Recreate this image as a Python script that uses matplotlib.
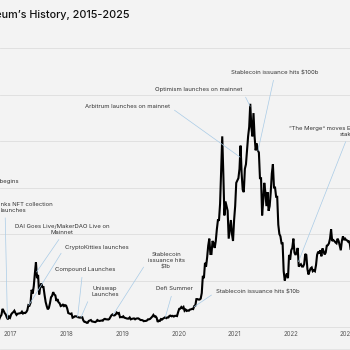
import numpy as np
import pandas as pd
import matplotlib.pyplot as plt

# weekly ETH price (USD), one list per year, each starting on a Monday
eth_2017 = [80, 88, 95, 170, 225, 260, 390, 350, 300, 270, 205, 165, 225, 200,
            270, 300, 320, 350, 300, 260, 285, 290, 295, 300, 330, 290, 305,
            300, 320, 360, 470, 460, 520, 800, 720]
eth_2018 = [880, 1150, 1390, 1050, 1120, 700, 860, 940, 860, 860, 690, 540, 450,
            380, 410, 510, 640, 670, 750, 700, 680, 560, 600, 530, 510, 450,
            460, 480, 450, 470, 460, 400, 300, 290, 280, 290, 200, 210, 230,
            230, 225, 210, 205, 200, 210, 210, 140, 110, 110, 90, 90, 130, 140]
eth_2019 = [150, 120, 115, 110, 105, 120, 150, 135, 130, 135, 140, 135,
            165, 175, 165, 165, 160, 170, 210, 250, 270, 250, 250, 270, 310,
            290, 300, 210, 215, 210, 230, 200, 195, 185, 180, 180, 205, 165, 175,
            180, 185, 165, 180, 185, 185, 170, 150, 150, 145, 125, 130, 130]
eth_2020 = [140, 165, 165, 175, 200, 225, 260, 225, 230, 200, 110, 135, 130,
            170, 160, 180, 195, 210, 190, 205, 205, 240, 245, 230, 240, 225,
            240, 240, 235, 320, 390, 395, 430, 405, 430, 350, 375, 345, 355,
            350, 375, 380, 390, 385, 450, 460, 600, 600, 590, 590, 610, 730]
eth_2021 = [1100, 1050, 1380, 1300, 1500, 1750, 1900, 1570, 1570, 1850, 1800, 1700, 1850,
            2100, 2300, 2300, 2650, 3400, 4100, 3300, 2400, 2700, 2600, 2500, 1900, 2100,
            2300, 2000, 1850, 2300, 2600, 3100, 3150, 3200, 3400, 3900, 3300, 2950, 2900,
            3400, 3500, 3800, 4100, 4300, 4800, 4300, 4100, 4600, 4100, 3800, 3950, 3800]
eth_2022 = [3750, 3200, 3200, 2400, 2700, 3100, 2900, 2600, 2900, 2500, 2600, 2900, 3300,
            3500, 3000, 3000, 2800, 2800, 2200, 2000, 1950, 1800, 1800, 1200, 1000, 1100,
            1150, 1050, 1550, 1450, 1650, 1700, 1900, 1600, 1550, 1600, 1700, 1300, 1330,
            1350, 1300, 1300, 1350, 1570, 1550, 1250, 1130, 1200, 1260, 1280, 1200, 1220]
eth_2023 = [1200, 1330, 1550, 1620, 1580, 1650, 1520, 1690, 1630, 1560, 1600, 1750, 1760,
            1800, 1900, 2100, 1850, 1870, 1850, 1820, 1800, 1900, 1850, 1750, 1650, 1850,
            1950, 1870, 1900, 1870, 1860, 1830, 1850, 1680]
year_starts = ['2017-05-01', '2018-01-01', '2019-01-07', '2020-01-06',
               '2021-01-04', '2022-01-03', '2023-01-02']

events = ['ICO boom begins',
          'CryptoPunks NFT collection\nlaunches',
          'DAI Goes Live/MakerDAO Live on\nMainnet',
          'CryptoKitties launches',
          'Compound Launches',
          'Uniswap\nLaunches',
          'Stablecoin\nissuance hits\n$1b',
          'Defi Summer',
          'Stablecoin issuance hits $10b',
          'Arbitrum launches on mainnet',
          'Optimism launches on mainnet',
          'Stablecoin issuance hits $100b',
          '\u201cThe Merge\u201d moves Ethereum to proof of\nstake']
event_t = [None, 2017.53, 2018.05, 2017.91, 2018.78, 2018.84, 2019.41, 2020.34,
           2020.85, 2021.67, 2021.85, 2021.99, 2022.71]
year_ticks = ['2017', '2018', '2019', '2020', '2021', '2022', '2023']


def dec_year(d):
    d = pd.DatetimeIndex(d)
    days = np.where(d.is_leap_year, 366, 365)
    return d.year + (d.dayofyear - 1) / days


t, p = [], []
for start, vals in zip(year_starts, [eth_2017, eth_2018, eth_2019, eth_2020,
                                     eth_2021, eth_2022, eth_2023]):
    t.extend(dec_year(pd.date_range(start, periods=len(vals), freq='7D')))
    p.extend(vals)
t = np.array(t)
p = np.array(p)

bg = '#f3f3f3'
leader = '#a9cbe6'
txt = '#333333'
plt.rcParams['font.family'] = ['Inter', 'DejaVu Sans']

fig = plt.figure(figsize=(3.5, 3.5), dpi=100, facecolor=bg)
ax = fig.add_axes([0, 23 / 350, 1, 279 / 350], facecolor=bg)

x0 = 2017.399
ppy = 56.2
ax.set_xlim(x0, x0 + 350 / ppy)
ax.set_ylim(0, 6000)

ax.plot(t, p, color='black', lw=1.5, zorder=3, solid_joinstyle='miter')

ax.set_yticks(np.arange(1000, 6001, 1000))
ax.yaxis.grid(True, color='#dddddd', lw=0.6)
ax.tick_params(axis='y', left=False, labelleft=False)
ax.set_xticks([int(y) + 0.577 for y in year_ticks])
ax.set_xticklabels(year_ticks)
ax.tick_params(axis='x', length=0, pad=3, labelsize=4.4, labelcolor='#555555')
for s in ['top', 'left', 'right']:
    ax.spines[s].set_visible(False)
ax.spines['bottom'].set_color('#dddddd')
ax.spines['bottom'].set_linewidth(0.6)


def px(x, y):
    return x0 + x / ppy, (327 - y) * 1000 / 46.5


# text position (pixels), alignment, leader start on text box
layout = [((19, 182), 'right', None),
          ((13, 207.5), 'center', (0.4, 0)),
          ((62, 229.5), 'center', (0.5, 0)),
          ((65, 247), 'left', (0, 0.5)),
          ((85.5, 270), 'center', (0.45, 0)),
          ((105, 291.5), 'center', (0, 0.3)),
          ((166, 261), 'center', (0, 0.5)),
          ((174.5, 289), 'center', (0.45, 0)),
          ((216, 292), 'left', (0, 0.5)),
          ((170, 107), 'right', (1, 0.5)),
          ((242, 90), 'right', (1, 0.5)),
          ((274.5, 73), 'center', (0.5, 0)),
          ((347.5, 131.5), 'center', (0.5, 0))]

for label, et, (pos, ha, rel) in zip(events, event_t, layout):
    tx, ty = px(*pos)
    if et is None:
        ax.text(tx, ty, label, ha=ha, va='center', fontsize=4.3, color=txt)
        continue
    ax.annotate(label, xy=(et, np.interp(et, t, p)), xytext=(tx, ty),
                ha=ha, va='center', multialignment='center', fontsize=4.3,
                color=txt, linespacing=1.25, annotation_clip=False,
                arrowprops=dict(arrowstyle='-', color=leader, lw=0.5,
                                shrinkA=1.5, shrinkB=0, relpos=rel))

fig.text(130 / 350, 1 - 15 / 350, 'Ethereum\u2019s History, 2015-2025',
         ha='right', va='center', fontsize=7.8, fontweight='medium', color='#111111')
fig.add_artist(plt.Line2D([0, 1], [1.5 / 350, 1.5 / 350], color='#e2e2e2', lw=0.6))

fig.savefig('out.png', dpi=100, facecolor=bg)
